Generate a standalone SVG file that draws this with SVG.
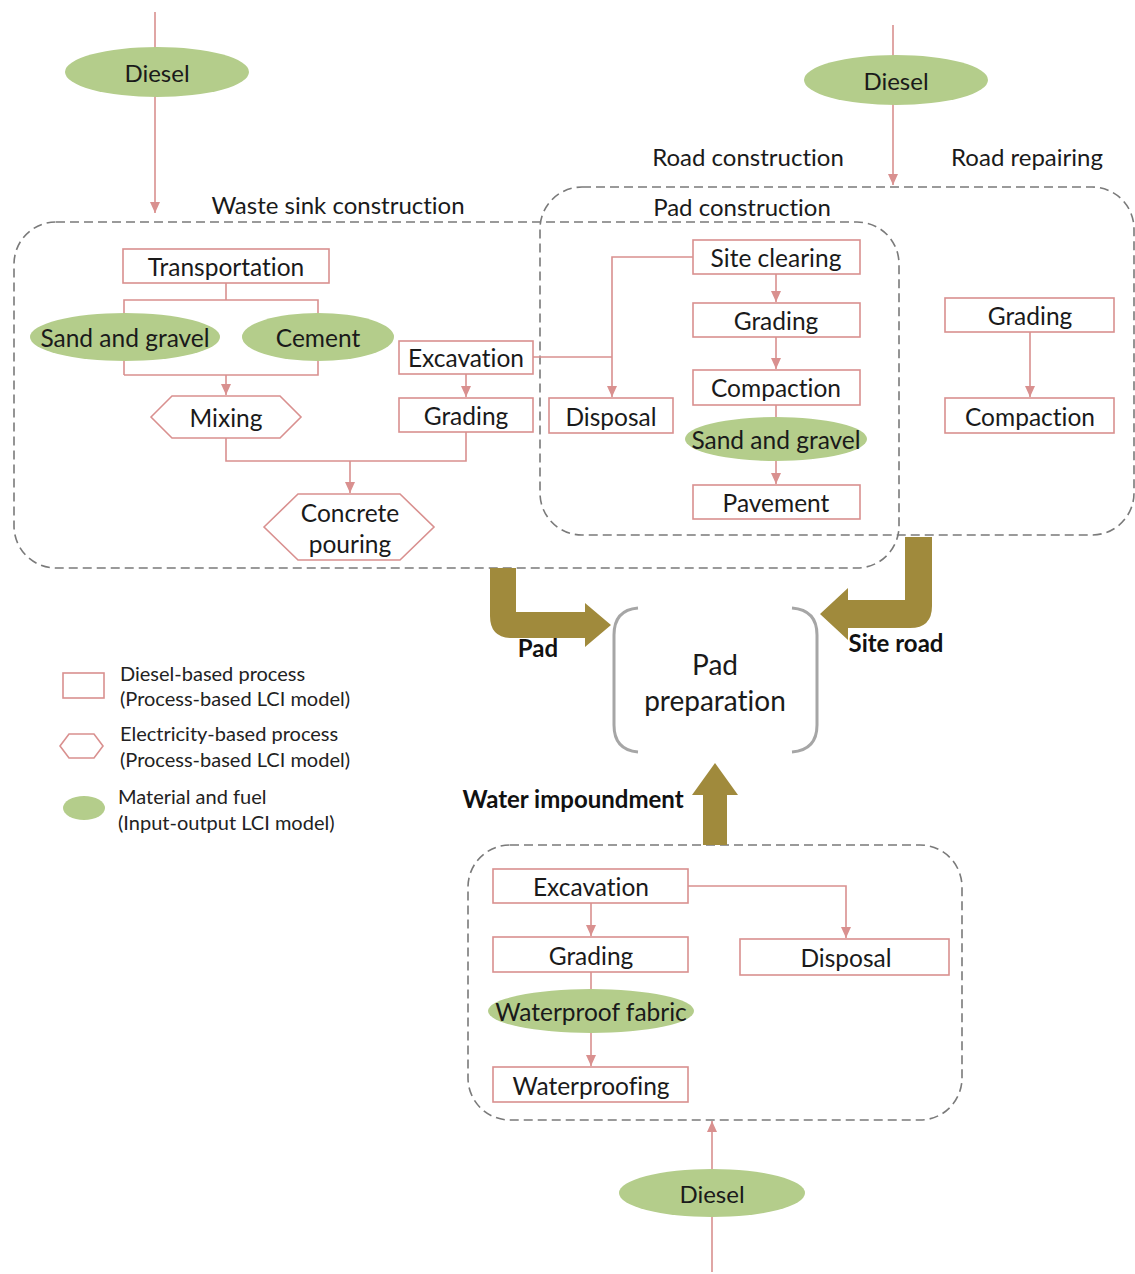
<svg xmlns="http://www.w3.org/2000/svg" width="1135" height="1274" viewBox="0 0 1135 1274">
<defs>
<style>
text{font-variant-ligatures:none;font-feature-settings:"liga" 0,"clig" 0}
.t{font-family:Lato,"Liberation Sans",sans-serif;font-size:24.5px;fill:#1a1a1a;text-anchor:middle;dominant-baseline:central}
.lbl{font-family:Lato,"Liberation Sans",sans-serif;font-size:24px;fill:#1a1a1a;text-anchor:middle}
.b{font-family:Lato,"Liberation Sans",sans-serif;font-size:24px;font-weight:bold;fill:#111;text-anchor:middle}
.lg{font-family:Lato,"Liberation Sans",sans-serif;font-size:20px;fill:#222}
.box{fill:#fff;stroke:#d9908f;stroke-width:1.6}
.mat{fill:#b4cd8b;stroke:none}
.dash{fill:none;stroke:#7a7a7a;stroke-width:1.6;stroke-dasharray:9 5}
.c{fill:none;stroke:#d9908f;stroke-width:1.6}
.ar{fill:#a08a3c}
.br{fill:none;stroke:#a6a6a6;stroke-width:3}
</style>
<marker id="ah" markerWidth="12" markerHeight="12" refX="11" refY="6" orient="auto" markerUnits="userSpaceOnUse"><path d="M0,1 L11,6 L0,11 z" fill="#d9908f"/></marker>
</defs>
<rect width="1135" height="1274" fill="#fff"/>

<g id="groups">
<rect class="dash" x="14" y="222" width="885" height="346" rx="42"/>
<rect class="dash" x="540" y="187" width="594" height="348" rx="42"/>
<rect class="dash" x="468" y="845" width="494" height="275" rx="42"/>
<text class="lbl" x="338" y="214">Waste sink construction</text>
<text class="lbl" x="748" y="166">Road construction</text>
<text class="lbl" x="1027" y="166">Road repairing</text>
<text class="lbl" x="742" y="216">Pad construction</text>
</g>

<g id="connectors">
<line class="c" x1="155" y1="12" x2="155" y2="213" marker-end="url(#ah)"/>
<line class="c" x1="893" y1="25" x2="893" y2="185" marker-end="url(#ah)"/>
<line class="c" x1="712" y1="1272" x2="712" y2="1121" marker-end="url(#ah)"/>
<polyline class="c" points="226,283 226,300"/>
<polyline class="c" points="124,375 124,300 318,300 318,375 124,375"/>
<line class="c" x1="226" y1="375" x2="226" y2="395" marker-end="url(#ah)"/>
<line class="c" x1="466" y1="374" x2="466" y2="397" marker-end="url(#ah)"/>
<polyline class="c" points="226,438 226,461 466,461 466,432"/>
<line class="c" x1="350" y1="461" x2="350" y2="493" marker-end="url(#ah)"/>
<line class="c" x1="533" y1="357" x2="612" y2="357"/>
<polyline class="c" points="693,257 612,257 612,397" marker-end="url(#ah)"/>
<line class="c" x1="776" y1="274" x2="776" y2="302" marker-end="url(#ah)"/>
<line class="c" x1="776" y1="337" x2="776" y2="369" marker-end="url(#ah)"/>
<line class="c" x1="776" y1="405" x2="776" y2="420"/>
<line class="c" x1="776" y1="460" x2="776" y2="484" marker-end="url(#ah)"/>
<line class="c" x1="1030" y1="332" x2="1030" y2="397" marker-end="url(#ah)"/>
<line class="c" x1="591" y1="903" x2="591" y2="936" marker-end="url(#ah)"/>
<line class="c" x1="591" y1="972" x2="591" y2="990"/>
<line class="c" x1="591" y1="1033" x2="591" y2="1066" marker-end="url(#ah)"/>
<polyline class="c" points="688,886 846,886 846,938" marker-end="url(#ah)"/>
<path class="ar" d="M490,568 L516,568 L516,612 L585,612 L585,603 L611,625 L585,647 L585,638 L512,638 Q490,638 490,616 Z"/>
<path class="ar" d="M905,537 L932,537 L932,606 Q932,628 910,628 L848,628 L848,640 L820,614 L848,588 L848,600 L905,600 Z"/>
<path class="ar" d="M703,845 L703,795 L692,795 L715,763 L738,795 L727,795 L727,845 Z"/>
<text class="b" x="538" y="657">Pad</text>
<text class="b" x="896" y="652">Site road</text>
<text class="b" x="573" y="808">Water impoundment</text>
</g>

<g id="diesel-left"><ellipse class="mat" cx="157" cy="72" rx="92" ry="25"/><text class="t" x="157" y="72" style="font-size:24px">Diesel</text></g>
<g id="diesel-right"><ellipse class="mat" cx="896" cy="80" rx="92" ry="25"/><text class="t" x="896" y="80" style="font-size:24px">Diesel</text></g>
<g id="diesel-bottom"><ellipse class="mat" cx="712" cy="1193" rx="93" ry="24"/><text class="t" x="712" y="1193" style="font-size:24px">Diesel</text></g>

<g id="ws-transportation"><rect class="box" x="123" y="249" width="206" height="34"/><text class="t" x="226" y="266">Transportation</text></g>
<g id="ws-sand"><ellipse class="mat" cx="125" cy="337" rx="95" ry="24"/><text class="t" x="125" y="337">Sand and gravel</text></g>
<g id="ws-cement"><ellipse class="mat" cx="318" cy="337" rx="76" ry="24"/><text class="t" x="318" y="337">Cement</text></g>
<g id="ws-mixing"><polygon class="box" points="151,417 172,396 280,396 301,417 280,438 172,438"/><text class="t" x="226" y="417">Mixing</text></g>
<g id="ws-excavation"><rect class="box" x="399" y="341" width="134" height="33"/><text class="t" x="466" y="357">Excavation</text></g>
<g id="ws-grading"><rect class="box" x="399" y="398" width="134" height="34"/><text class="t" x="466" y="415">Grading</text></g>
<g id="ws-concrete"><polygon class="box" points="264,527 298,494 400,494 434,527 400,560 298,560"/><text class="t" x="350" y="512">Concrete</text><text class="t" x="350" y="543">pouring</text></g>

<g id="pc-siteclearing"><rect class="box" x="693" y="240" width="167" height="34"/><text class="t" x="776" y="257">Site clearing</text></g>
<g id="pc-grading"><rect class="box" x="693" y="303" width="167" height="34"/><text class="t" x="776" y="320">Grading</text></g>
<g id="pc-compaction"><rect class="box" x="693" y="370" width="167" height="35"/><text class="t" x="776" y="387">Compaction</text></g>
<g id="pc-sand"><ellipse class="mat" cx="776" cy="439" rx="91" ry="22"/><text class="t" x="776" y="439">Sand and gravel</text></g>
<g id="pc-pavement"><rect class="box" x="693" y="485" width="167" height="34"/><text class="t" x="776" y="502">Pavement</text></g>
<g id="pc-disposal"><rect class="box" x="549" y="398" width="124" height="35"/><text class="t" x="611" y="416">Disposal</text></g>

<g id="rr-grading"><rect class="box" x="945" y="298" width="169" height="34"/><text class="t" x="1030" y="315">Grading</text></g>
<g id="rr-compaction"><rect class="box" x="945" y="398" width="169" height="35"/><text class="t" x="1030" y="416">Compaction</text></g>

<g id="pad-preparation">
<path class="br" d="M638,608 Q614,610 614,635 L614,725 Q614,750 638,752"/>
<path class="br" d="M792,608 Q817,610 817,635 L817,725 Q817,750 792,752"/>
<text class="t" x="715" y="664" style="font-size:28px">Pad</text>
<text class="t" x="715" y="700" style="font-size:28px">preparation</text>
</g>

<g id="wi-excavation"><rect class="box" x="493" y="869" width="195" height="34"/><text class="t" x="591" y="886">Excavation</text></g>
<g id="wi-grading"><rect class="box" x="493" y="937" width="195" height="35"/><text class="t" x="591" y="955">Grading</text></g>
<g id="wi-fabric"><ellipse class="mat" cx="591" cy="1011" rx="103" ry="22"/><text class="t" x="591" y="1011">Waterproof fabric</text></g>
<g id="wi-waterproofing"><rect class="box" x="493" y="1067" width="195" height="35"/><text class="t" x="591" y="1085">Waterproofing</text></g>
<g id="wi-disposal"><rect class="box" x="740" y="939" width="209" height="36"/><text class="t" x="846" y="957">Disposal</text></g>

<g id="legend">
<rect class="box" x="63" y="673" width="41" height="25"/>
<text class="lg" x="120" y="681">Diesel-based process</text>
<text class="lg" x="120" y="706">(Process-based LCI model)</text>
<polygon class="box" points="60,746 69,734 94,734 103,746 94,758 69,758"/>
<text class="lg" x="120" y="741">Electricity-based process</text>
<text class="lg" x="120" y="767">(Process-based LCI model)</text>
<ellipse class="mat" cx="84" cy="808" rx="21" ry="12"/>
<text class="lg" x="118" y="804">Material and fuel</text>
<text class="lg" x="118" y="830">(Input-output LCI model)</text>
</g>
</svg>
